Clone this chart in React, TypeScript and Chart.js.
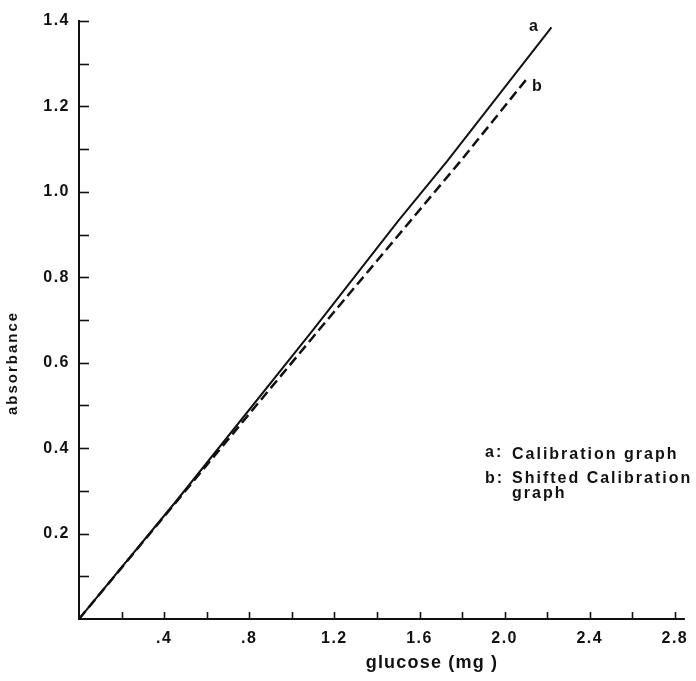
import React, { useEffect, useRef } from 'react';
import { Chart, registerables } from 'chart.js';

Chart.register(...registerables);

// Curve a: calibration graph (solid)
const curveAX = [0, 0.46, 1.1, 1.5, 1.73, 2.22];
const curveAY = [0, 0.278, 0.677, 0.932, 1.072, 1.385];
// Curve b: shifted calibration graph (dashed)
const curveBX = [0, 1.128, 1.793, 2.1];
const curveBY = [0, 0.677, 1.072, 1.262];

const seriesNames = ['a', 'b'];
const legendA = ['a:', 'Calibration graph'];
const legendB = ['b:', 'Shifted Calibration', 'graph'];
const xTitle = 'glucose (mg )';
const yTitle = 'absorbance';

const xMin = 0;
const xMax = 2.8;
const xStep = 0.2;
const yMin = 0;
const yMax = 1.4;
const yStep = 0.1;

const FONT = '"Liberation Sans", Arial, Helvetica, sans-serif';

function xLabel(v: number): string {
  const t = Math.round(v * 10);
  if (t === 0 || t % 4 !== 0) return '';
  if (t < 10) return '.' + t;
  return (t / 10).toFixed(1);
}

function yLabel(v: number): string {
  const t = Math.round(v * 10);
  if (t === 0 || t % 2 !== 0) return '';
  return (t / 10).toFixed(1);
}

function toPoints(xs: number[], ys: number[]) {
  return xs.map((x, i) => ({ x, y: ys[i] }));
}

const annotate = {
  id: 'annotate',
  beforeDraw(chart: any) {
    (chart.ctx as any).letterSpacing = '1.5px';
  },
  afterDraw(chart: any) {
    const ctx = chart.ctx as CanvasRenderingContext2D & { letterSpacing: string };
    const area = chart.chartArea;
    const xs = chart.scales.x;
    const ys = chart.scales.y;
    ctx.save();
    ctx.strokeStyle = '#111';
    ctx.lineWidth = 1.6;
    // inward tick marks
    xs.ticks.forEach((t: any) => {
      if (Math.abs(t.value) < 1e-9) return;
      const px = Math.round(xs.getPixelForValue(t.value)) + 0.5;
      ctx.beginPath();
      ctx.moveTo(px, area.bottom);
      ctx.lineTo(px, area.bottom - 7);
      ctx.stroke();
    });
    ys.ticks.forEach((t: any) => {
      if (Math.abs(t.value) < 1e-9) return;
      const py = Math.round(ys.getPixelForValue(t.value)) + 0.5;
      ctx.beginPath();
      ctx.moveTo(area.left, py);
      ctx.lineTo(area.left + 10, py);
      ctx.stroke();
    });
    // x axis slight extension past the last tick
    ctx.lineWidth = 2;
    ctx.beginPath();
    ctx.moveTo(area.right, area.bottom);
    ctx.lineTo(area.right + 10, area.bottom);
    ctx.stroke();

    ctx.fillStyle = '#111';
    ctx.textBaseline = 'middle';

    // axis titles
    ctx.letterSpacing = '1.2px';
    ctx.font = `bold 18px ${FONT}`;
    ctx.textAlign = 'center';
    ctx.fillText(xTitle, area.left + 353, area.bottom + 44);

    ctx.save();
    ctx.font = `bold 15px ${FONT}`;
    ctx.letterSpacing = '2px';
    ctx.translate(13, area.top + 342);
    ctx.rotate(-Math.PI / 2);
    ctx.textAlign = 'center';
    ctx.fillText(yTitle, 0, 0);
    ctx.restore();

    // curve labels at the ends of the lines
    ctx.font = `bold 16px ${FONT}`;
    ctx.letterSpacing = '0px';
    ctx.textAlign = 'center';
    const metaA = chart.getDatasetMeta(0).data;
    const metaB = chart.getDatasetMeta(1).data;
    const endA = metaA[metaA.length - 1];
    const endB = metaB[metaB.length - 1];
    ctx.fillText(seriesNames[0], endA.x - 18, endA.y - 1);
    ctx.fillText(seriesNames[1], endB.x + 11, endB.y + 7);

    // legend block
    ctx.textAlign = 'left';
    ctx.font = `bold 16px ${FONT}`;
    ctx.letterSpacing = '2px';
    const lx = area.left + 406;
    const lx2 = area.left + 433;
    const ly = area.top + 434;
    ctx.fillText(legendA[0], lx, ly - 2);
    ctx.fillText(legendA[1], lx2, ly);
    ctx.fillText(legendB[0], lx, ly + 24);
    ctx.fillText(legendB[1], lx2, ly + 24);
    ctx.fillText(legendB[2], lx2, ly + 39);
    ctx.restore();
  },
};

export default function App() {
  const ref = useRef<HTMLCanvasElement | null>(null);

  useEffect(() => {
    if (!ref.current) return;
    const tickFont = { family: FONT, size: 16, weight: 'bold' as const };
    const chart = new Chart(ref.current, {
      type: 'scatter',
      data: {
        datasets: [
          {
            label: seriesNames[0],
            data: toPoints(curveAX, curveAY),
            showLine: true,
            borderColor: '#111',
            borderWidth: 2,
            pointRadius: 0,
            tension: 0,
          },
          {
            label: seriesNames[1],
            data: toPoints(curveBX, curveBY),
            showLine: true,
            borderColor: '#111',
            borderWidth: 2.5,
            borderDash: [10, 5],
            pointRadius: 0,
            tension: 0,
          },
        ],
      },
      options: {
        responsive: false,
        animation: false,
        events: [],
        layout: { padding: { left: 0, top: 21, right: 18, bottom: 0 } },
        plugins: {
          legend: { display: false },
          tooltip: { enabled: false },
          title: { display: false },
        },
        scales: {
          x: {
            type: 'linear',
            min: xMin,
            max: xMax,
            grid: { display: false, drawTicks: false },
            border: { display: true, color: '#111', width: 2 },
            ticks: {
              stepSize: xStep,
              autoSkip: false,
              maxRotation: 0,
              padding: 10,
              color: '#111',
              font: tickFont,
              callback: (v: any) => xLabel(Number(v)),
            },
            afterFit: (s: any) => {
              s.height = 62;
            },
          },
          y: {
            type: 'linear',
            min: yMin,
            max: yMax,
            grid: { display: false, drawTicks: false },
            border: { display: true, color: '#111', width: 2 },
            ticks: {
              stepSize: yStep,
              autoSkip: false,
              padding: 9,
              color: '#111',
              font: tickFont,
              callback: (v: any) => yLabel(Number(v)),
            },
            afterFit: (s: any) => {
              s.width = 79;
            },
          },
        },
      },
      plugins: [annotate],
    });
    return () => chart.destroy();
  }, []);

  return (
    <div style={{ position: 'absolute', left: 0, top: 0, width: 696, height: 681, background: '#fff' }}>
      <canvas ref={ref} width={696} height={681} />
    </div>
  );
}
